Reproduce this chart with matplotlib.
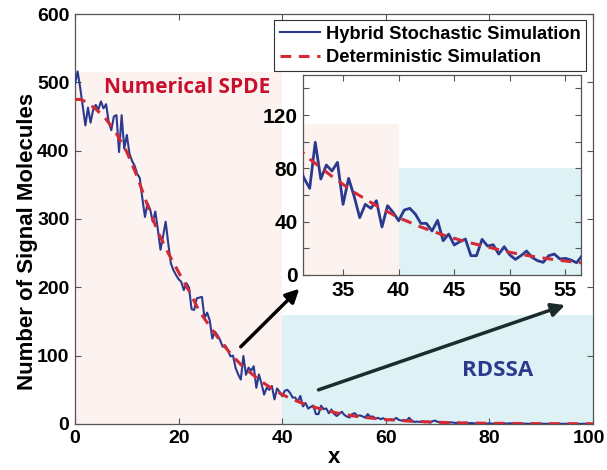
import numpy as np
import matplotlib.pyplot as plt
import matplotlib.transforms as mtrans

# ------------------------------------------------------------
# datos
# ------------------------------------------------------------

# simulacion hibrida estocastica, paso 0.5 en x
x_hyb = np.arange(0, 100.5, 0.5)
y_hyb = [
    498, 516, 492, 465, 437, 463, 441, 460, 467, 460,      # 0 - 4.5
    472, 462, 468, 442, 430, 450, 452, 398, 452, 403,      # 5 - 9.5
    423, 396, 385, 378, 366, 360, 330, 303, 323, 314,      # 10 - 14.5
    296, 311, 284, 255, 275, 296, 264, 235, 225, 218,      # 15 - 19.5
    212, 208, 196, 206, 200, 168, 167, 184, 185, 186,      # 20 - 24.5
    155, 163, 152, 125, 135, 130, 123, 113, 115, 108,      # 25 - 29.5
    99, 100, 82, 72.5, 65, 99.5, 72, 82.5, 78, 84.5,       # 30 - 34.5
    53, 72.5, 59, 43, 53, 50, 55.7, 36, 52, 47,            # 35 - 39.5
    40.7, 48.7, 50, 45.7, 38.7, 38.7, 33, 41, 25.7, 30.7,  # 40 - 44.5
    22.5, 25, 27, 14.5, 14.5, 26.7, 21.7, 22.7, 15.7, 21.2,  # 45 - 49.5
    15, 11.7, 14.5, 18, 13.2, 10.7, 9.5, 14.5, 15.7, 12,   # 50 - 54.5
    12.5, 11.2, 9.2, 14.5, 10.5, 11, 8, 9, 7, 8.5,         # 55 - 59.5
    6, 5.5, 7, 6, 9, 6, 5, 6, 5, 9,                        # 60 - 64.5
    5, 3, 3.5, 3, 4, 2.5, 3.5, 2, 4, 5,                    # 65 - 69.5
    3, 2.5, 2, 3, 1.5, 2.5, 2, 1.5, 2, 1,                  # 70 - 74.5
    1.5, 2, 1, 1.5, 1, 0.5, 1, 1.5, 1, 0.5,                # 75 - 79.5
    1, 0.5, 0.8, 1, 0.5, 0.3, 0.8, 0.5, 1.2, 0.5,          # 80 - 84.5
    0.3, 0.6, 0.5, 0.3, 0.5, 0.2, 0.4, 0.3, 0.2, 0.3,      # 85 - 89.5
    0.5, 0.3, 0.2, 0.4, 0.3, 0.2, 0.3, 0.4, 0.2, 0.3,      # 90 - 94.5
    0.2, 0.3, 0.2, 0.3, 0.2, 0.2, 0.3, 0.2, 0.2, 0.3,      # 95 - 99.5
    0.2,                                                   # 100
]

# simulacion determinista
x_det = [0, 1, 2, 4, 6, 8, 10, 12, 14, 16, 18, 20, 22, 24, 26, 28, 30,
         32, 34, 36, 38, 40, 42, 44, 46, 48, 50, 52, 54, 56, 58, 60,
         65, 70, 75, 80, 90, 100]
y_det = [475, 475, 472, 461, 446, 425, 398, 362, 320, 281, 250, 222,
         195, 165, 143, 122, 103, 87, 74, 62, 52, 43, 36, 30, 25, 21,
         17, 14, 11.5, 9.5, 8, 6.5, 4, 2.5, 1.5, 1, 0.5, 0.3]

# regiones (x0, x1, altura)
region_spde = (0, 40, 515)
region_rdssa = (40, 100, 160)
inset_spde = (31.4, 40, 113)
inset_rdssa = (40, 56.4, 80)

labels = ["Hybrid Stochastic Simulation", "Deterministic Simulation"]

# ------------------------------------------------------------
# estilo
# ------------------------------------------------------------

plt.rcParams['font.family'] = ['Liberation Sans', 'DejaVu Sans']
plt.rcParams['font.weight'] = 'bold'
plt.rcParams['font.size'] = 14

AZUL = '#2b3a8e'
ROJO = '#d42a36'
ROSA = '#fcf2f0'
CIAN = '#def1f4'
GRIS = '#555555'


def estilo_ejes(ax, tam):
    ax.tick_params(direction='in', top=True, right=True, length=4,
                   width=0.8, color=GRIS, pad=4, labelsize=tam)
    for s in ax.spines.values():
        s.set_color(GRIS)
        s.set_linewidth(0.9)
    for lab in ax.get_xticklabels() + ax.get_yticklabels():
        lab.set_fontweight('bold')


def dibujar_curvas(ax, lw_azul):
    l1, = ax.plot(x_hyb, y_hyb, color=AZUL, lw=lw_azul, zorder=3)
    l2, = ax.plot(x_det, y_det, color=ROJO, lw=2.2, ls=(0, (3.5, 2.5)),
                  zorder=4)
    return l1, l2


fig = plt.figure(figsize=(6.07, 4.70), dpi=100)

# ------------------------------------------------------------
# ejes principales
# ------------------------------------------------------------

ax = fig.add_axes([0.1236, 0.0979, 0.8534, 0.8723])

ax.fill_between([region_spde[0], region_spde[1]], 0, region_spde[2],
                color=ROSA, lw=0, zorder=1)
ax.fill_between([region_rdssa[0], region_rdssa[1]], 0, region_rdssa[2],
                color=CIAN, lw=0, zorder=1)

l1, l2 = dibujar_curvas(ax, 1.5)

ax.set_xlim(0, 100)
ax.set_ylim(0, 600)
ax.set_xticks(range(0, 101, 20))
ax.set_yticks(range(0, 601, 100))
ax.set_xlabel("x", fontsize=16, fontweight='bold', labelpad=0)
ax.set_ylabel("Number of Signal Molecules", fontsize=16, fontweight='bold')
ax.yaxis.set_label_coords(-0.072, 0.446)
estilo_ejes(ax, 14)

# el "100" queda pegado al borde: se corre un poco a la izquierda
ult = ax.get_xticklabels()[-1]
ult.set_transform(ult.get_transform() +
                  mtrans.ScaledTranslation(-3 / 72, 0, fig.dpi_scale_trans))

ax.text(21.6, 492, "Numerical SPDE", color='#c8102e', fontsize=15,
        fontweight='bold', family=['Open Sans', 'DejaVu Sans'],
        ha='center', va='center', zorder=5)
ax.text(81.5, 79, "RDSSA", color=AZUL, fontsize=16, fontweight='bold',
        family=['Open Sans', 'DejaVu Sans'], ha='center', va='center',
        zorder=5)

# flechas
ax.annotate("", xy=(43.3, 198), xytext=(32.0, 113),
            arrowprops=dict(arrowstyle='-|>', color='black', lw=2.5,
                            mutation_scale=20, shrinkA=0, shrinkB=0),
            zorder=6)
ax.annotate("", xy=(94.6, 174), xytext=(47.0, 50),
            arrowprops=dict(arrowstyle='-|>', color='#1c2b2b', lw=2.5,
                            mutation_scale=20, shrinkA=0, shrinkB=0),
            zorder=6)

# ------------------------------------------------------------
# inset
# ------------------------------------------------------------

axi = fig.add_axes([0.4992, 0.4149, 0.458, 0.4255])
axi.set_facecolor('white')
axi.fill_between([inset_spde[0], inset_spde[1]], 0, inset_spde[2],
                 color=ROSA, lw=0, zorder=1)
axi.fill_between([inset_rdssa[0], inset_rdssa[1]], 0, inset_rdssa[2],
                 color=CIAN, lw=0, zorder=1)
dibujar_curvas(axi, 2.0)

axi.set_xlim(31.4, 56.4)
axi.set_ylim(0, 150)
axi.set_xticks(range(35, 56, 5))
axi.set_yticks(range(0, 141, 20))
axi.set_yticklabels([str(v) if v % 40 == 0 else "" for v in range(0, 141, 20)])
estilo_ejes(axi, 15)

# ------------------------------------------------------------
# leyenda
# ------------------------------------------------------------

leg = fig.legend([l1, l2], labels, loc='upper right',
                 bbox_to_anchor=(0.9654, 0.9574), fancybox=False,
                 framealpha=1, edgecolor='#333333', fontsize=13.2,
                 handlelength=2.2, handletextpad=0.3, labelspacing=0.35,
                 borderpad=0.3, borderaxespad=0)
leg.get_frame().set_linewidth(0.8)
for t in leg.get_texts():
    t.set_fontweight('bold')
leg.set_zorder(10)

fig.savefig("out.png", dpi=100)
